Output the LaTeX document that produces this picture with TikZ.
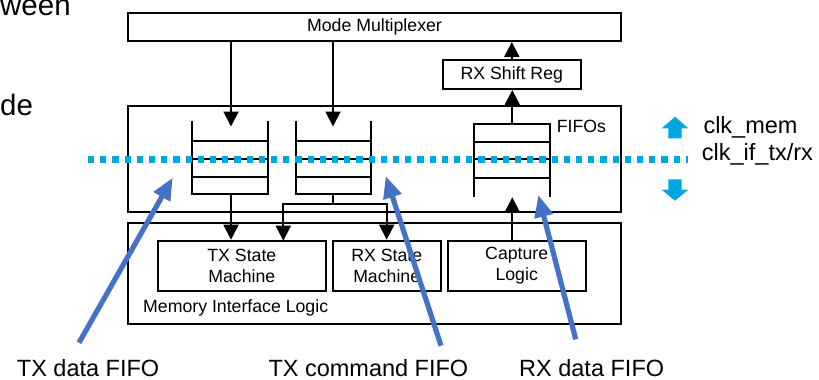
\documentclass[tikz,border=0pt]{standalone}
\usepackage{fontspec}
\setmainfont{Liberation Sans}
\usetikzlibrary{arrows.meta}
\definecolor{clkcyan}{HTML}{00A6E2}
\definecolor{ptrblue}{HTML}{4472C4}
\begin{document}
\begin{tikzpicture}[x=1pt,y=-1pt,
  box/.style={draw, line width=2pt, inner sep=0pt, align=center,
    font=\fontsize{17.7}{20.5}\selectfont},
  txt/.style={inner sep=0pt, font=\fontsize{17.7}{20.5}\selectfont},
  big/.style={inner sep=0pt, font=\fontsize{23.5}{28}\selectfont},
  huge/.style={inner sep=0pt, font=\fontsize{29.5}{34}\selectfont},
  fifo/.style={line width=1.9pt},
  arr/.style={line width=2pt, line join=miter, -{Triangle[length=15pt,width=15pt]}},
  ptr/.style={draw=ptrblue, line width=5.2pt, -{Triangle[length=22pt,width=18pt]}},
  clkline/.style={draw=clkcyan, line width=6.5pt, dash pattern=on 6.2pt off 6pt},
  clkarrow/.style={fill=clkcyan, draw=none}
]
\useasboundingbox (0,0) rectangle (819,380);

% partial text at the left edge
\node[huge, anchor=base west] (w1) at (0,15) {ween};
\node[huge, anchor=base west] (w2) at (0,115) {de};

% boxes
\node[box, minimum width=493pt, minimum height=28pt] (mux) at (374.5,27) {Mode Multiplexer};
\node[box, minimum width=138.3pt, minimum height=29pt] (srg) at (511.8,74.5) {RX Shift Reg};
\node[box, minimum width=493pt, minimum height=106pt] (fifos) at (374.5,159) {};
\node[txt, anchor=west] (fifolab) at (556.7,126) {FIFOs};
\node[box, minimum width=493pt, minimum height=101pt] (mil) at (374.5,273.5) {};
\node[txt, anchor=west] (millab) at (143,308) {Memory Interface Logic};
\node[box, minimum width=167.7pt, minimum height=50pt] (txsm) at (241.85,265.7) {TX State\\Machine};
\node[box, minimum width=108pt, minimum height=50pt] (rxsm) at (386.7,265.7) {RX State\\Machine};
\node[box, minimum width=138pt, minimum height=50pt] (cap) at (516.7,265.7) {Capture\\Logic};

% FIFO 1 (TX data, open top)
\draw[fifo] (192,120.7) -- (192,194.3) -- (267.7,194.3) -- (267.7,120.7);
\foreach \yy in {140.7,159.3,176.7} \draw[fifo] (192,\yy) -- (267.7,\yy);
% FIFO 2 (TX command, open top)
\draw[fifo] (295.7,120.7) -- (295.7,194.3) -- (371,194.3) -- (371,120.7);
\foreach \yy in {140.7,159.3,176.7} \draw[fifo] (295.7,\yy) -- (371,\yy);
% FIFO 3 (RX data, open bottom)
\draw[fifo] (474,196.7) -- (474,124) -- (550,124) -- (550,196.7);
\foreach \yy in {141.7,159.3,177.7} \draw[fifo] (474,\yy) -- (550,\yy);

\coordinate (f1in) at (231,126.5);
\coordinate (f2in) at (333,126.5);
\coordinate (f1bot) at (231,194.3);
\coordinate (f2bot) at (333,194.3);
\coordinate (split) at (333,204.3);
\coordinate (t2) at (283.3,240.7);
\coordinate (f3top) at (512.3,124);
\coordinate (f3bot) at (512.3,197.3);

% black connectors
\draw[arr] (mux.south -| f1in) -- (f1in);
\draw[arr] (mux.south -| f2in) -- (f2in);
\draw[arr] (f1bot) -- (f1bot |- txsm.north);
\draw[line width=2pt] (f2bot) -- (split);
\draw[arr] (split) -| (t2);
\draw[arr] (split) -| (rxsm.north);
\draw[arr] (f3bot |- cap.north) -- (f3bot);
\draw[arr] (f3top) -- (f3top |- srg.south);
\draw[arr] (srg.north) -- (srg.north |- mux.south);

% clock domain line
\coordinate (cl0) at (88,159.3);
\coordinate (cl1) at (688,159.3);
\draw[clkline] (cl0) -- (cl1);

% cyan block arrows
\fill[clkarrow] (675,116.7) -- (688.3,128.3) -- (681.7,128.3) -- (681.7,138.3) -- (668.3,138.3) -- (668.3,128.3) -- (661.7,128.3) -- cycle;
\fill[clkarrow] (675,200.7) -- (688.3,189.7) -- (681.7,189.7) -- (681.7,179.3) -- (668.3,179.3) -- (668.3,189.7) -- (661.7,189.7) -- cycle;
\node[big, anchor=base west] (clkmem) at (703.3,133.3) {clk\_mem};
\node[big, anchor=base west] (clkif) at (701.7,160) {clk\_if\_tx/rx};

% bottom labels
\node[big, anchor=base west] (lab1) at (16.7,376.7) {TX data FIFO};
\node[big, anchor=base west] (lab2) at (268.3,376.7) {TX command FIFO};
\node[big, anchor=base west] (lab3) at (519,376.7) {RX data FIFO};

% pointer arrows
\coordinate (p1a) at (79,342.7);
\coordinate (p1b) at (172.7,177.7);
\coordinate (p2a) at (441,345.7);
\coordinate (p2b) at (385.7,176);
\coordinate (p3a) at (575.7,339.3);
\coordinate (p3b) at (538.3,195);
\draw[ptr] (p1a) -- (p1b);
\draw[ptr] (p2a) -- (p2b);
\draw[ptr] (p3a) -- (p3b);
\end{tikzpicture}
\end{document}
